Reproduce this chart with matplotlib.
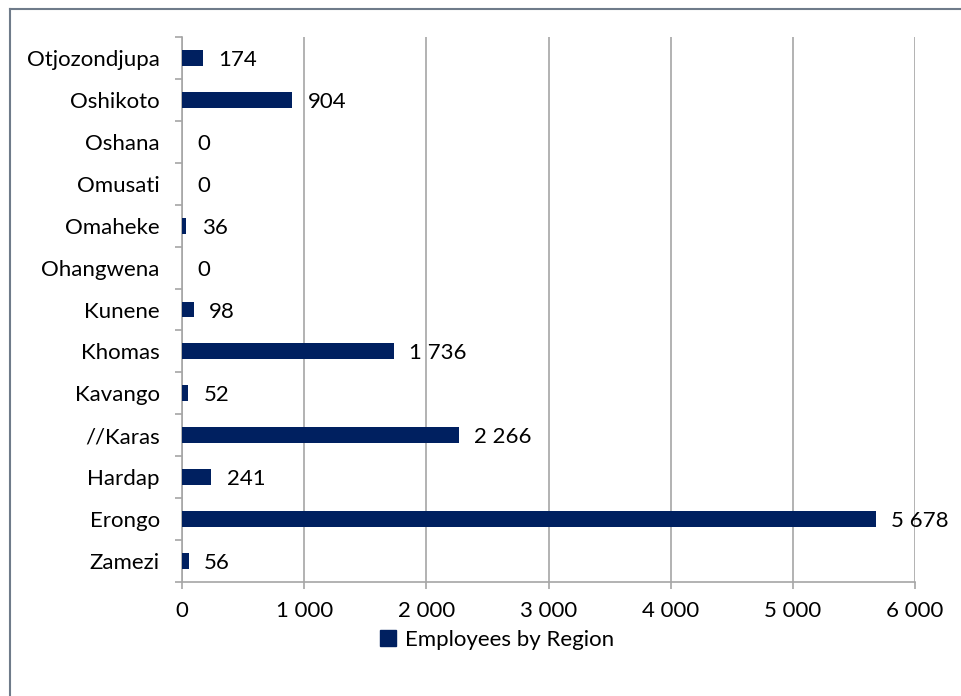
import matplotlib
matplotlib.use("Agg")
import matplotlib.pyplot as plt
from matplotlib.lines import Line2D
from matplotlib.patches import Patch

regions = ["Zamezi", "Erongo", "Hardap", "//Karas", "Kavango", "Khomas", "Kunene",
           "Ohangwena", "Omaheke", "Omusati", "Oshana", "Oshikoto", "Otjozondjupa"]
employees = [56, 5678, 241, 2266, 52, 1736, 98, 0, 36, 0, 0, 904, 174]
x_ticks = [0, 1000, 2000, 3000, 4000, 5000, 6000]
series_name = "Employees by Region"

plt.rcParams['font.family'] = ['Lato', 'DejaVu Sans']
FS = 16

W, H = 961, 696
fig = plt.figure(figsize=(W / 100, H / 100), dpi=100)
ax = fig.add_axes([182 / W, (H - 582) / H, (915 - 182) / W, (582 - 37) / H])

bar_color = "#002060"
grid_color = "#a6a6a6"
ypos = list(range(len(regions)))
ax.barh(ypos, employees, height=0.38, color=bar_color, linewidth=0, zorder=3)


def fmt(v):
    return f"{v:,}".replace(",", " ")


for y, v in zip(ypos, employees):
    ax.annotate(fmt(v), xy=(v, y), xytext=(11, 0), textcoords="offset points",
                va="center_baseline", ha="left", fontsize=FS, color="black", zorder=4)

ax.set_xlim(0, 6000)
ax.set_ylim(-0.5, len(regions) - 0.5)
ax.set_xticks(x_ticks)
ax.set_xticklabels([fmt(t) for t in x_ticks])
ax.set_yticks([i - 0.5 for i in range(len(regions) + 1)])
ax.set_yticklabels([])
ax.set_yticks(ypos, minor=True)
ax.set_yticklabels(regions, minor=True)
ax.tick_params(axis="y", which="minor", length=0, pad=16, labelsize=FS)
ax.tick_params(axis="y", which="major", length=5, width=1.2, color=grid_color)
ax.tick_params(axis="x", length=5, width=1.2, color=grid_color, pad=9, labelsize=FS)

ax.grid(axis="x", color=grid_color, linewidth=1.2, zorder=0)
for side in ("top", "right"):
    ax.spines[side].set_visible(False)
for side in ("left", "bottom"):
    ax.spines[side].set_color(grid_color)
    ax.spines[side].set_linewidth(1.2)

fig.legend(handles=[Patch(facecolor=bar_color, edgecolor=bar_color)], labels=[series_name],
           loc="center", bbox_to_anchor=(497 / W, 1 - 640 / H), frameon=False,
           fontsize=FS, handlelength=0.7, handleheight=0.7, handletextpad=0.4)

# outer chart-area frame
frame_color = "#6f7b8a"
fig.add_artist(Line2D([10 / W, 10 / W], [0, 1 - 9 / H], color=frame_color, linewidth=1.5,
                      transform=fig.transFigure))
fig.add_artist(Line2D([10 / W, 1], [1 - 9 / H, 1 - 9 / H], color=frame_color, linewidth=1.5,
                      transform=fig.transFigure))

fig.savefig("out.png", dpi=100, facecolor="white")
